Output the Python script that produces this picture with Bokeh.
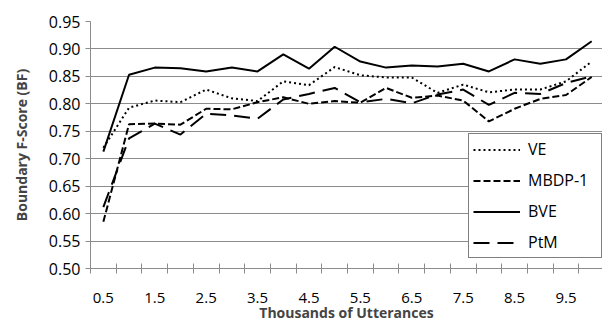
from bokeh.plotting import figure
from bokeh.models import Range1d, FixedTicker, NumeralTickFormatter, Legend, LegendItem
from bokeh.embed import file_html
from bokeh.resources import INLINE

# ---- data ----
thousands = [0.5, 1.0, 1.5, 2.0, 2.5, 3.0, 3.5, 4.0, 4.5, 5.0,
             5.5, 6.0, 6.5, 7.0, 7.5, 8.0, 8.5, 9.0, 9.5, 10.0]
ve = [0.720, 0.793, 0.806, 0.803, 0.826, 0.810, 0.805, 0.841, 0.834, 0.867,
      0.852, 0.848, 0.848, 0.820, 0.835, 0.821, 0.826, 0.826, 0.841, 0.877]
mbdp1 = [0.585, 0.763, 0.764, 0.762, 0.791, 0.790, 0.803, 0.812, 0.800, 0.805,
         0.802, 0.829, 0.811, 0.815, 0.806, 0.768, 0.791, 0.809, 0.816, 0.849]
bve = [0.713, 0.853, 0.866, 0.865, 0.859, 0.866, 0.859, 0.890, 0.864, 0.904,
       0.877, 0.866, 0.870, 0.868, 0.873, 0.859, 0.881, 0.873, 0.881, 0.914]
ptm = [0.612, 0.737, 0.764, 0.744, 0.782, 0.779, 0.773, 0.808, 0.818, 0.829,
       0.803, 0.809, 0.801, 0.817, 0.826, 0.798, 0.820, 0.818, 0.838, 0.850]
x_tick_labels = ["0.5", "1.5", "2.5", "3.5", "4.5", "5.5", "6.5", "7.5", "8.5", "9.5"]
y_ticks = [0.50, 0.55, 0.60, 0.65, 0.70, 0.75, 0.80, 0.85, 0.90, 0.95]

FONT = "Open Sans"
GRID = "#8c8c8c"

p = figure(width=602, height=325, output_backend="svg", toolbar_location=None,
           x_range=Range1d(0.25, 10.21), y_range=Range1d(0.50, 0.95),
           min_border_left=90, min_border_right=0, min_border_top=21,
           min_border_bottom=57)
p.outline_line_color = None
p.xgrid.grid_line_color = None
p.ygrid.grid_line_color = GRID
p.ygrid.grid_line_width = 1
p.background_fill_color = "white"
p.border_fill_color = "white"

half = [v - 0.25 for v in thousands] + [thousands[-1] + 0.25]
p.xaxis.ticker = FixedTicker(ticks=[float(s) for s in x_tick_labels], minor_ticks=half)
p.xaxis.major_tick_in = 0
p.xaxis.major_tick_out = 0
p.xaxis.minor_tick_in = 5
p.xaxis.minor_tick_out = 5
p.xaxis.minor_tick_line_color = GRID
p.xaxis.axis_line_color = GRID
p.xaxis.major_label_text_font = FONT
p.xaxis.major_label_text_font_size = "15px"
p.xaxis.major_label_text_color = "black"
p.xaxis.major_label_standoff = 19
p.xaxis.axis_label = "Thousands of Utterances"
p.xaxis.axis_label_text_font = FONT
p.xaxis.axis_label_text_font_size = "14px"
p.xaxis.axis_label_text_font_style = "bold"
p.xaxis.axis_label_standoff = -3

p.yaxis.ticker = FixedTicker(ticks=y_ticks)
p.yaxis.formatter = NumeralTickFormatter(format="0.00")
p.yaxis.major_tick_in = 0
p.yaxis.major_tick_out = 5
p.yaxis.minor_tick_line_color = None
p.yaxis.major_tick_line_color = GRID
p.yaxis.axis_line_color = GRID
p.yaxis.major_label_text_font = FONT
p.yaxis.major_label_text_font_size = "16px"
p.yaxis.major_label_text_color = "black"
p.yaxis.major_label_standoff = 5
p.yaxis.axis_label = "Boundary F-Score (BF)"
p.yaxis.axis_label_text_font = FONT
p.yaxis.axis_label_text_font_size = "14px"
p.yaxis.axis_label_text_font_style = "bold"
p.yaxis.axis_label_standoff = 15

r_ve = p.line(thousands, ve, line_color="black", line_width=2, line_dash="2 3")
r_mb = p.line(thousands, mbdp1, line_color="black", line_width=2, line_dash="7 3")
r_bve = p.line(thousands, bve, line_color="black", line_width=2)
r_ptm = p.line(thousands, ptm, line_color="black", line_width=2, line_dash="16 8")

legend = Legend(items=[LegendItem(label="VE", renderers=[r_ve]),
                       LegendItem(label="MBDP-1", renderers=[r_mb]),
                       LegendItem(label="BVE", renderers=[r_bve]),
                       LegendItem(label="PtM", renderers=[r_ptm])],
                location=(378, 10))
legend.border_line_color = "black"
legend.border_line_width = 1
legend.background_fill_color = "white"
legend.background_fill_alpha = 1
legend.padding = 4
legend.spacing = 9
legend.glyph_width = 47
legend.glyph_height = 21
legend.label_height = 21
legend.label_width = 69
legend.label_standoff = 8
legend.margin = 0
legend.label_text_font = FONT
legend.label_text_font_size = "16px"
legend.label_text_color = "black"
p.add_layout(legend)

open("out.html", "w").write(file_html(p, INLINE))
